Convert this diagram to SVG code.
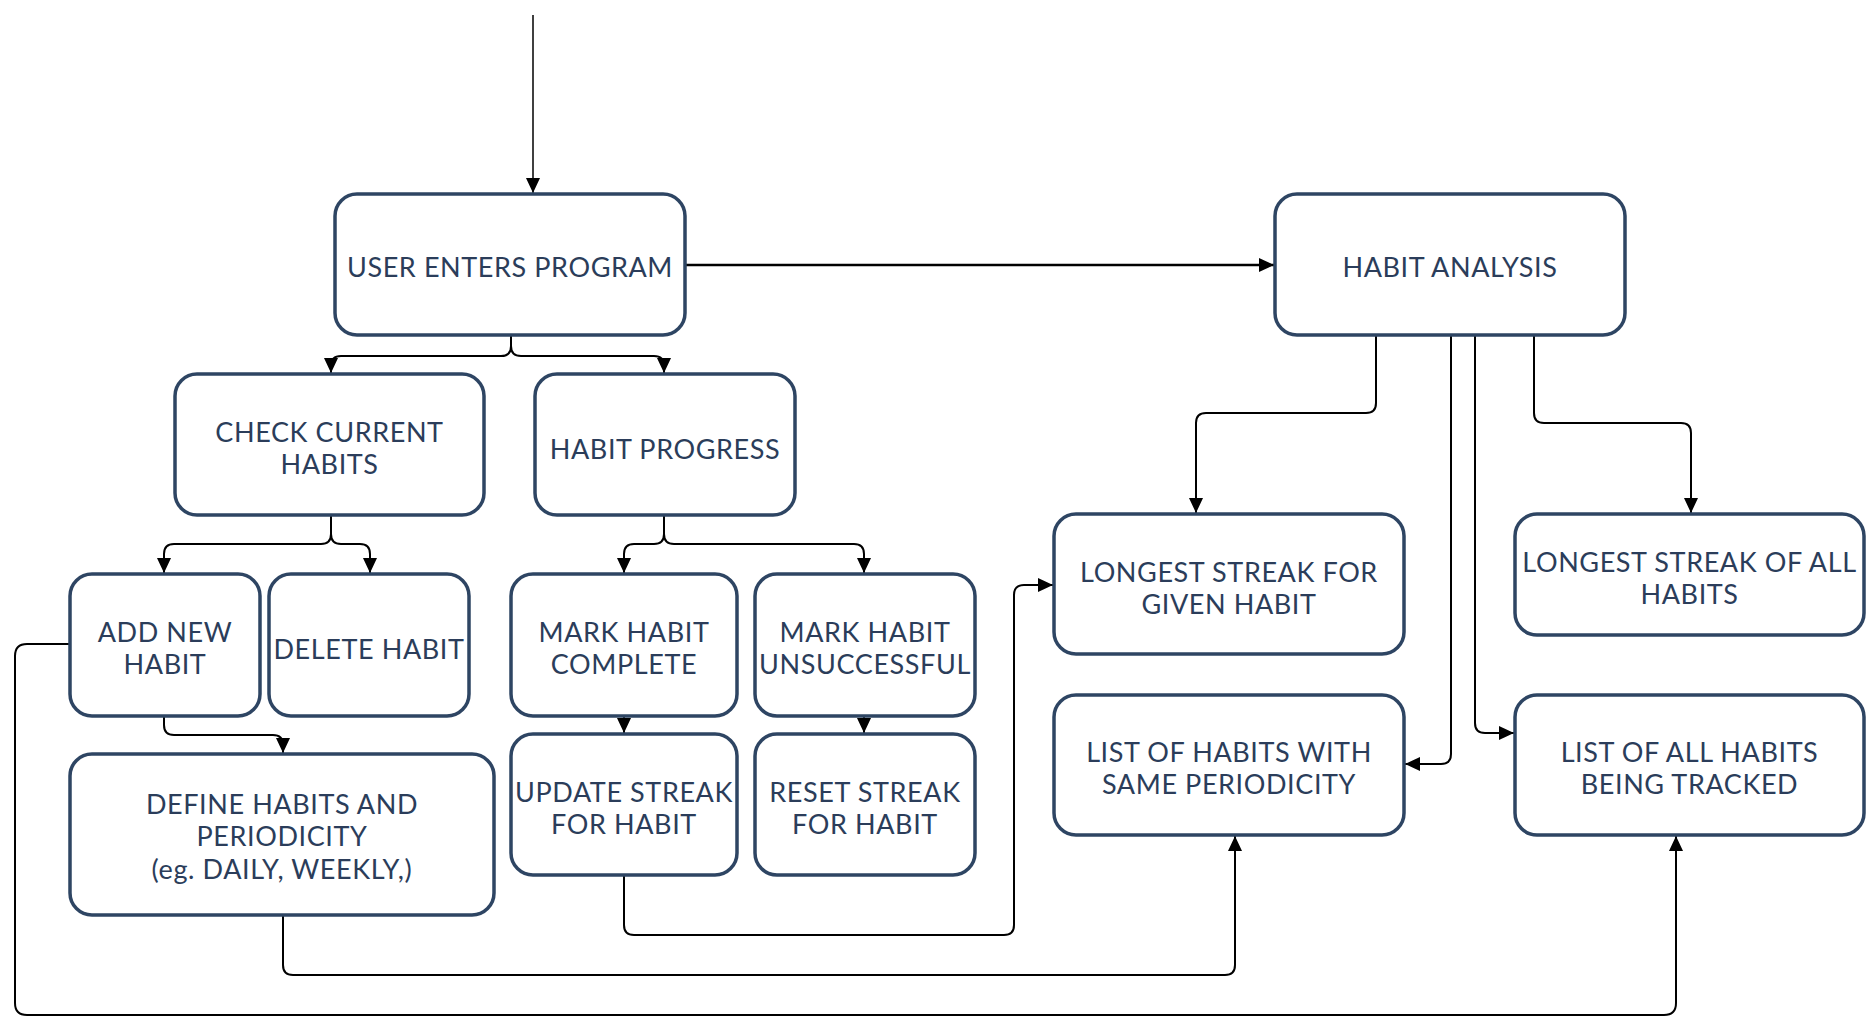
<svg xmlns="http://www.w3.org/2000/svg" width="1868" height="1034" viewBox="0 0 1868 1034">
<style>
.box{fill:#ffffff;stroke:#2e4563;stroke-width:3.5}
.t{font-family:"Lato","Liberation Sans",sans-serif;font-size:27px;letter-spacing:0.6px;fill:#2b3d5a;text-anchor:middle}
.c{fill:none;stroke:#000000;stroke-width:2}
</style>
<defs>
<marker id="ah" viewBox="0 0 15 14" refX="15" refY="7" markerWidth="15" markerHeight="14" markerUnits="userSpaceOnUse" orient="auto">
<path d="M0,0 L15,7 L0,14 z" fill="#000000"/>
</marker>
</defs>
<rect width="1868" height="1034" fill="#ffffff"/>
<g id="connectors">
<path class="c" d="M533,15 V193" marker-end="url(#ah)" style="stroke-width:1.5"/>
<path class="c" d="M686,265 H1274" marker-end="url(#ah)" style="stroke-width:2.5"/>
<path class="c" d="M511,336 V346 Q511,356 501,356 H341 Q331,356 331,366 V373" marker-end="url(#ah)"/>
<path class="c" d="M511,346 Q511,356 521,356 H654 Q664,356 664,366 V373" marker-end="url(#ah)"/>
<path class="c" d="M331,516 V534 Q331,544 321,544 H174 Q164,544 164,554 V573" marker-end="url(#ah)"/>
<path class="c" d="M331,534 Q331,544 341,544 H360 Q370,544 370,554 V573" marker-end="url(#ah)"/>
<path class="c" d="M664,516 V534 Q664,544 654,544 H634 Q624,544 624,554 V573" marker-end="url(#ah)"/>
<path class="c" d="M664,534 Q664,544 674,544 H854 Q864,544 864,554 V573" marker-end="url(#ah)"/>
<path class="c" d="M164,717 V725 Q164,735 174,735 H273 Q283,735 283,745 V753" marker-end="url(#ah)"/>
<path class="c" d="M624,717 V733" marker-end="url(#ah)"/>
<path class="c" d="M864,717 V733" marker-end="url(#ah)"/>
<path class="c" d="M1376,336 V403 Q1376,413 1366,413 H1206 Q1196,413 1196,423 V513" marker-end="url(#ah)"/>
<path class="c" d="M1534,336 V413 Q1534,423 1544,423 H1681 Q1691,423 1691,433 V513" marker-end="url(#ah)"/>
<path class="c" d="M1451,336 V754 Q1451,764 1441,764 H1405" marker-end="url(#ah)"/>
<path class="c" d="M1475,336 V723 Q1475,733 1485,733 H1514" marker-end="url(#ah)"/>
<path class="c" d="M624,876 V925 Q624,935 634,935 H1004 Q1014,935 1014,925 V595 Q1014,585 1024,585 H1053" marker-end="url(#ah)"/>
<path class="c" d="M283,916 V965 Q283,975 293,975 H1225 Q1235,975 1235,965 V836" marker-end="url(#ah)"/>
<path class="c" d="M70,644 H27 Q15,644 15,656 V1003 Q15,1015 27,1015 H1664 Q1676,1015 1676,1003 V836" marker-end="url(#ah)"/>
</g>
<g id="user-enters-program"><rect class="box" x="335" y="194" width="350" height="141" rx="22"/><text class="t" x="510" y="276.5">USER ENTERS PROGRAM</text></g>
<g id="habit-analysis"><rect class="box" x="1275" y="194" width="350" height="141" rx="22"/><text class="t" x="1450" y="276.5">HABIT ANALYSIS</text></g>
<g id="check-current-habits"><rect class="box" x="175" y="374" width="309" height="141" rx="22"/><text class="t" x="329.5" y="442">CHECK CURRENT</text><text class="t" x="329.5" y="474">HABITS</text></g>
<g id="habit-progress"><rect class="box" x="535" y="374" width="260" height="141" rx="22"/><text class="t" x="665" y="458.5">HABIT PROGRESS</text></g>
<g id="add-new-habit"><rect class="box" x="70" y="574" width="190" height="142" rx="22"/><text class="t" x="165" y="641.5">ADD NEW</text><text class="t" x="165" y="673.5">HABIT</text></g>
<g id="delete-habit"><rect class="box" x="269" y="574" width="200" height="142" rx="22"/><text class="t" x="369" y="658.5">DELETE HABIT</text></g>
<g id="mark-habit-complete"><rect class="box" x="511" y="574" width="226" height="142" rx="22"/><text class="t" x="624" y="641.5">MARK HABIT</text><text class="t" x="624" y="673.5">COMPLETE</text></g>
<g id="mark-habit-unsuccessful"><rect class="box" x="755" y="574" width="220" height="142" rx="22"/><text class="t" x="865" y="641.5">MARK HABIT</text><text class="t" x="865" y="673.5">UNSUCCESSFUL</text></g>
<g id="define-habits"><rect class="box" x="70" y="754" width="424" height="161" rx="22"/><text class="t" x="282" y="813.5">DEFINE HABITS AND</text><text class="t" x="282" y="845.5">PERIODICITY</text><text class="t" x="282" y="878.5">(eg. DAILY, WEEKLY,)</text></g>
<g id="update-streak"><rect class="box" x="511" y="734" width="226" height="141" rx="22"/><text class="t" x="624" y="801.5">UPDATE STREAK</text><text class="t" x="624" y="833.5">FOR HABIT</text></g>
<g id="reset-streak"><rect class="box" x="755" y="734" width="220" height="141" rx="22"/><text class="t" x="865" y="801.5">RESET STREAK</text><text class="t" x="865" y="833.5">FOR HABIT</text></g>
<g id="longest-streak-given"><rect class="box" x="1054" y="514" width="350" height="140" rx="22"/><text class="t" x="1229" y="581.5">LONGEST STREAK FOR</text><text class="t" x="1229" y="613.5">GIVEN HABIT</text></g>
<g id="longest-streak-all"><rect class="box" x="1515" y="514" width="349" height="121" rx="22"/><text class="t" x="1689.5" y="571.5">LONGEST STREAK OF ALL</text><text class="t" x="1689.5" y="603.5">HABITS</text></g>
<g id="list-same-periodicity"><rect class="box" x="1054" y="695" width="350" height="140" rx="22"/><text class="t" x="1229" y="761.5">LIST OF HABITS WITH</text><text class="t" x="1229" y="793.5">SAME PERIODICITY</text></g>
<g id="list-all-habits"><rect class="box" x="1515" y="695" width="349" height="140" rx="22"/><text class="t" x="1689.5" y="761.5">LIST OF ALL HABITS</text><text class="t" x="1689.5" y="793.5">BEING TRACKED</text></g>
</svg>
